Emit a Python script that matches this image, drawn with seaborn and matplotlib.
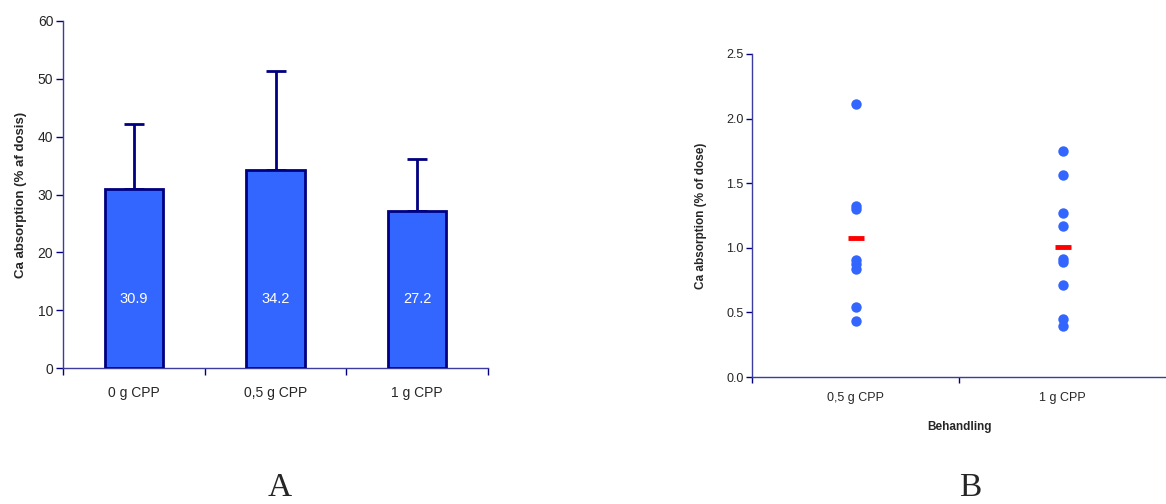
import matplotlib
matplotlib.use("Agg")
import matplotlib.pyplot as plt
import seaborn as sns
import numpy as np
import pandas as pd
from matplotlib.ticker import FixedLocator

# ---- data ----
bar_categories = ["0 g CPP", "0,5 g CPP", "1 g CPP"]
bar_means = [30.9, 34.2, 27.2]
bar_sd = [11.3, 17.1, 8.9]
bar_yticks = [0, 10, 20, 30, 40, 50, 60]

scatter_categories = ["0,5 g CPP", "1 g CPP"]
dose05_values = [2.116, 1.327, 1.302, 0.907, 0.876, 0.835, 0.539, 0.436]
dose1_values = [1.750, 1.562, 1.273, 1.165, 0.915, 0.889, 0.709, 0.448, 0.392]
scatter_means = [1.072, 1.010]
scatter_yticks = [0.0, 0.5, 1.0, 1.5, 2.0, 2.5]

panel_letters = ["A", "B"]

sns.set_style("ticks")
plt.rcParams['font.family'] = ['Liberation Sans', 'DejaVu Sans']

BAR_FILL = "#3366FF"
NAVY = "#000080"
SPINE = "#3c3ca0"

fig = plt.figure(figsize=(11.66, 5.04), dpi=100)

# ---------------- Panel A ----------------
axA = fig.add_axes([63/1166, 1 - 368/504, 425/1166, 347/504])
dfA = pd.DataFrame({"cat": bar_categories, "val": bar_means})
sns.barplot(data=dfA, x="cat", y="val", ax=axA, color=BAR_FILL, saturation=1,
            width=0.41, edgecolor=NAVY, linewidth=2, errorbar=None, zorder=3)
xs = np.arange(len(bar_categories))
axA.errorbar(xs, bar_means, yerr=[np.zeros(len(bar_sd)), bar_sd], fmt="none",
             ecolor=NAVY, elinewidth=2, capsize=7.5, capthick=2, zorder=2)
for i, v in enumerate(bar_means):
    axA.text(i, 12, f"{v:.1f}", color="white", ha="center", va="center", fontsize=10.5, zorder=5)
axA.set_xlim(-0.5, 2.5)
axA.set_ylim(0, 60)
axA.set_yticks(bar_yticks)
axA.set_xticks(xs)
axA.set_xticklabels(bar_categories, fontsize=10)
axA.xaxis.set_minor_locator(FixedLocator([-0.5, 0.5, 1.5, 2.5]))
axA.tick_params(axis="x", which="major", length=0, pad=13)
axA.tick_params(axis="x", which="minor", length=5, width=1, color=NAVY, direction="out")
axA.tick_params(axis="y", length=5, width=1, color=NAVY, labelsize=10, pad=2)
axA.set_xlabel("")
axA.set_ylabel("Ca absorption (% af dosis)", fontsize=9.5, fontweight="bold", labelpad=8)
sns.despine(ax=axA)
for s in ["left", "bottom"]:
    axA.spines[s].set_color(SPINE)
    axA.spines[s].set_linewidth(1)

# ---------------- Panel B ----------------
axB = fig.add_axes([752/1166, 1 - 377/504, 414/1166, 323/504])
dfB = pd.DataFrame({
    "group": [scatter_categories[0]] * len(dose05_values) + [scatter_categories[1]] * len(dose1_values),
    "value": dose05_values + dose1_values,
})
sns.stripplot(data=dfB, x="group", y="value", ax=axB, jitter=False, color=BAR_FILL,
              size=7.5, linewidth=0, order=scatter_categories, zorder=3)
axB.plot(np.arange(len(scatter_categories)), scatter_means, linestyle="none", marker="_",
         markersize=12, markeredgewidth=3.5, color="#FF0000", zorder=4)
axB.set_xlim(-0.5, 1.5)
axB.set_ylim(0, 2.5)
axB.set_yticks(scatter_yticks)
axB.set_yticklabels([f"{t:.1f}" for t in scatter_yticks])
axB.set_xticks(np.arange(len(scatter_categories)))
axB.set_xticklabels(scatter_categories, fontsize=9)
axB.xaxis.set_minor_locator(FixedLocator([-0.5, 0.5]))
axB.tick_params(axis="x", which="major", length=0, pad=11)
axB.tick_params(axis="x", which="minor", length=4, width=1, color=NAVY, direction="out")
axB.tick_params(axis="y", length=4, width=1, color=NAVY, labelsize=9, pad=2)
axB.set_xlabel("Behandling", fontsize=8.5, fontweight="bold", labelpad=12)
axB.set_ylabel("Ca absorption (% of dose)", fontsize=8.5, fontweight="bold", labelpad=14)
sns.despine(ax=axB)
for s in ["left", "bottom"]:
    axB.spines[s].set_color(SPINE)
    axB.spines[s].set_linewidth(1)

# ---------------- Panel letters ----------------
fig.text(280/1166, 1 - 496/504, panel_letters[0], fontsize=24, family=["Liberation Serif"],
         ha="center", va="baseline")
fig.text(970/1166, 1 - 496/504, panel_letters[1], fontsize=24, family=["Liberation Serif"],
         ha="center", va="baseline")

fig.savefig("out.png", dpi=100, facecolor="white")
